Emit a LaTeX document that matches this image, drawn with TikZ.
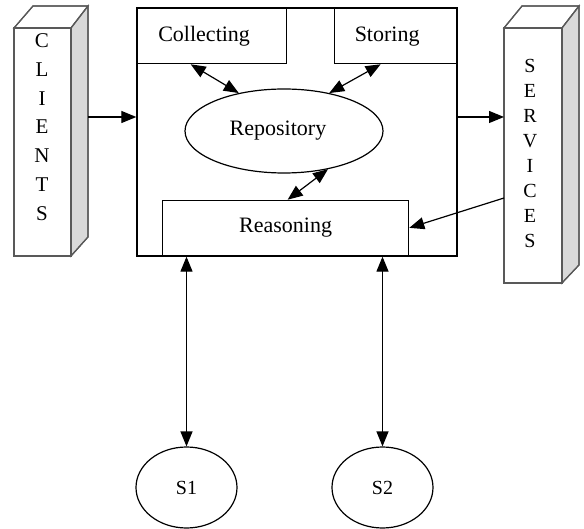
\documentclass[tikz,border=0pt]{standalone}
\usepackage{fontspec}
\setmainfont{Liberation Serif}
\usetikzlibrary{arrows.meta,shapes.geometric}
\begin{document}
\begin{tikzpicture}[x=1pt,y=-1pt,
  box/.style={draw, line width=1.3pt, inner sep=0pt, font=\fontsize{22}{24}\selectfont},
  oval/.style={draw, ellipse, line width=1.2pt, inner sep=0pt, font=\fontsize{22}{24}\selectfont},
  soval/.style={draw, ellipse, line width=1.2pt, inner sep=0pt, font=\fontsize{20}{22}\selectfont},
  arr/.style={line width=1.2pt, -{Triangle[length=15pt,width=12pt]}},
  darr/.style={line width=1.2pt, {Triangle[length=15pt,width=12pt]}-{Triangle[length=15pt,width=12pt]}},
  face/.style={draw=gray!70!black, line width=2.4pt, fill=white},
  sideface/.style={draw=gray!70!black, line width=1.2pt, fill=gray!30},
  topface/.style={draw=gray!70!black, line width=1.2pt, fill=white},
  letters/.style={align=center, inner sep=0pt}
]
\useasboundingbox (0,0) rectangle (584,529);

% CLIENTS pillar
\fill[topface] (14,28) -- (33,6) -- (88,6) -- (71,28) -- cycle;
\fill[sideface] (71,28) -- (88,6) -- (88,237) -- (71,256) -- cycle;
\draw[topface,fill=none] (14,28) -- (33,6) -- (88,6) -- (71,28);
\draw[sideface,fill=none] (88,6) -- (88,237) -- (71,256);
\node[face, minimum width=57pt, minimum height=228pt, inner sep=0pt] (cl) at (42.5,142) {};
\node[letters, font=\fontsize{21}{28.8}\selectfont] (cltxt) at (42,127) {C\\L\\I\\E\\N\\T\\S};

% SERVICES pillar
\fill[topface] (504,28) -- (522,6) -- (579,6) -- (562,28) -- cycle;
\fill[sideface] (562,28) -- (579,6) -- (579,265) -- (562,283) -- cycle;
\draw[topface,fill=none] (504,28) -- (522,6) -- (579,6) -- (562,28);
\draw[sideface,fill=none] (579,6) -- (579,265) -- (562,283);
\node[face, minimum width=58pt, minimum height=255pt, inner sep=0pt] (sv) at (533,155.5) {};
\node[letters, font=\fontsize{20}{25}\selectfont] (svtxt) at (530,153) {S\\E\\R\\V\\I\\C\\E\\S};

% main box
\node[box, minimum width=320pt, minimum height=248pt] (main) at (297,132) {};
\node[box, minimum width=149pt, minimum height=55pt, anchor=north west] (coll) at (137,8) {Collecting\hspace*{16pt}};
\node[box, minimum width=123pt, minimum height=55pt, anchor=north west] (stor) at (334,8) {Storing\hspace*{18pt}};
\node[oval, minimum width=198pt, minimum height=84pt] (rep) at (284,131) {Repository\hspace*{12pt}};
\node[box, minimum width=246pt, minimum height=55pt, anchor=south west] (reas) at (162,256) {Reasoning};

% S1, S2
\node[soval, minimum width=101pt, minimum height=81pt] (s1) at (186.5,487.5) {S1};
\node[soval, minimum width=101pt, minimum height=81pt] (s2) at (382.5,487.5) {S2};

% connectors
\coordinate (ca) at (88,117);
\draw[arr] (ca) -- (ca -| main.west);
\coordinate (sa) at (504,117);
\draw[arr] (sa -| main.east) -- (sa);
\coordinate (sb) at (504,198);
\draw[arr] (sb) -- (reas.east);
\draw[darr] ([xshift=-21.5pt]coll.south) -- (rep.140);
\draw[darr] ([xshift=-15.5pt]stor.south) -- (rep.40);
\draw[darr] (rep.-41) -- ([xshift=2pt]reas.north);
\draw[darr] (s1.north |- main.south) -- (s1.north);
\draw[darr] (s2.north |- main.south) -- (s2.north);
\end{tikzpicture}
\end{document}
